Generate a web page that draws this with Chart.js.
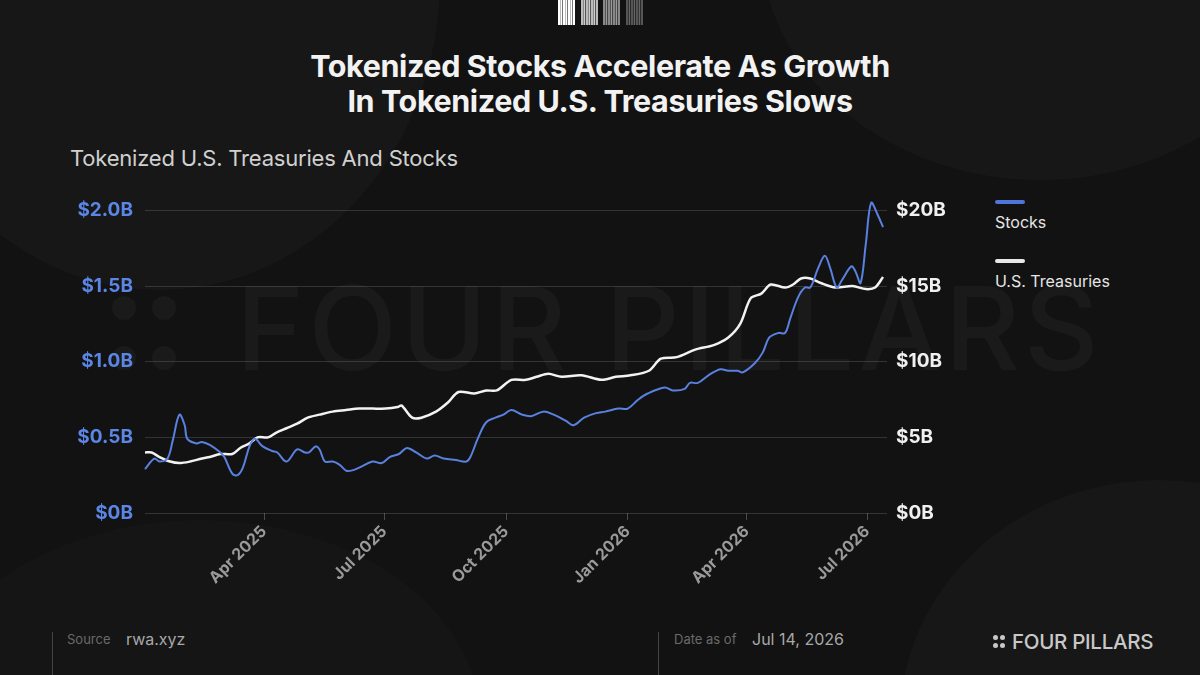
<!DOCTYPE html>
<html>
<head>
<meta charset="utf-8">
<script src="https://cdn.jsdelivr.net/npm/chart.js@4.4.1/dist/chart.umd.min.js"></script>
<style>
  html, body { margin: 0; padding: 0; }
  body {
    width: 1200px; height: 675px; overflow: hidden; position: relative;
    background: #121212; font-family: Inter, "Noto Sans", sans-serif; color: #fff;
  }
  .blob { position: absolute; border-radius: 50%; background: #171717; }
  .barcode { position: absolute; top: 0; height: 25px; width: 17px; }
  .title {
    position: absolute; top: 48px; left: 0; width: 1200px; text-align: center;
    font-size: 30.5px; font-weight: 700; line-height: 35px; letter-spacing: -0.4px; color: #f2f2f2;
  }
  .subtitle { position: absolute; left: 70px; top: 145px; font-size: 22px; color: #d0d0d0; letter-spacing: -0.2px; }
  .watermark {
    position: absolute; left: 236px; top: 258px; font-size: 116px; font-weight: 500;
    color: rgba(255,255,255,0.035); letter-spacing: 4px; white-space: nowrap;
  }
  .wdot { position: absolute; width: 24px; height: 24px; border-radius: 50%; background: rgba(255,255,255,0.035); }
  #wrap { position: absolute; left: 60px; top: 187px; width: 907px; height: 416px; }
  .leg { position: absolute; left: 995px; font-size: 16px; color: #e6e6e6; }
  .legbar { position: absolute; left: 995px; width: 30px; height: 4px; border-radius: 2px; }
  .vline { position: absolute; top: 632px; width: 1px; height: 43px; background: #444; }
  .flabel { position: absolute; top: 631px; font-size: 13px; color: #6a6a6a; }
  .fval { position: absolute; top: 629px; font-size: 16px; color: #a8a8a8; }
  .logo { position: absolute; left: 992px; top: 629px; font-size: 20.5px; font-weight: 500; color: #c8c8c8; letter-spacing: -0.3px; }
  .ldot { position: absolute; width: 5px; height: 5px; border-radius: 50%; background: #c8c8c8; }
</style>
</head>
<body>
<div class="blob" style="left:-120px; top:-330px; width:560px; height:620px;"></div>
<div class="blob" style="left:760px; top:-300px; width:560px; height:480px;"></div>
<div class="blob" style="left:900px; top:480px; width:520px; height:480px;"></div>
<div class="blob" style="left:-80px; top:520px; width:560px; height:400px; background:#151515;"></div>

<div class="barcode" style="left:558px; background:repeating-linear-gradient(90deg,#fff 0 2px,#bbb 2px 3px,#fff 3px 4px,#777 4px 5px);"></div>
<div class="barcode" style="left:581px; background:repeating-linear-gradient(90deg,#bbb 0 2px,#888 2px 3px,#ccc 3px 4px,#555 4px 5px);"></div>
<div class="barcode" style="left:603px; background:repeating-linear-gradient(90deg,#888 0 2px,#555 2px 3px,#999 3px 4px,#444 4px 5px);"></div>
<div class="barcode" style="left:626px; background:repeating-linear-gradient(90deg,#555 0 2px,#333 2px 3px,#666 3px 4px,#2a2a2a 4px 5px);"></div>

<div class="title">Tokenized Stocks Accelerate As Growth<br>In Tokenized U.S. Treasuries Slows</div>
<div class="subtitle">Tokenized U.S. Treasuries And Stocks</div>

<div class="wdot" style="left:112px; top:296px;"></div>
<div class="wdot" style="left:152px; top:296px;"></div>
<div class="wdot" style="left:112px; top:346px;"></div>
<div class="wdot" style="left:152px; top:346px;"></div>
<div class="watermark">FOUR PILLARS</div>

<div id="wrap"><canvas id="chart"></canvas></div>

<div class="legbar" style="top:200px; background:#4f74dc;"></div>
<div class="leg" style="top:212px;">Stocks</div>
<div class="legbar" style="top:259px; background:#e8e8e8;"></div>
<div class="leg" style="top:271px;">U.S. Treasuries</div>

<div class="vline" style="left:52px;"></div>
<div class="flabel" style="left:67px;">Source</div>
<div class="fval" style="left:126px;">rwa.xyz</div>
<div class="vline" style="left:658px;"></div>
<div class="flabel" style="left:674px;">Date as of</div>
<div class="fval" style="left:752px;">Jul 14, 2026</div>
<div class="ldot" style="left:993px; top:635px;"></div>
<div class="ldot" style="left:1000px; top:635px;"></div>
<div class="ldot" style="left:993px; top:643px;"></div>
<div class="ldot" style="left:1000px; top:643px;"></div>
<div class="logo" style="left:1012px;">FOUR PILLARS</div>

<script>
// days counted from Jan 1, 2025
const tickDays = [90, 181, 273, 365, 455, 546];
const tickLabels = ["Apr 2025", "Jul 2025", "Oct 2025", "Jan 2026", "Apr 2026", "Jul 2026"];

// Stocks, $B (left axis)
const stockDays = [0, 7, 11, 17, 21, 26, 30, 32, 39, 43, 49, 57, 60, 66, 70, 74, 79, 83, 89, 96,
  100, 107, 115, 121, 124, 129, 132, 136, 142, 147, 152, 156, 162, 172, 179, 185, 192, 198, 205, 213,
  219, 226, 235, 243, 246, 252, 258, 265, 271, 277, 285, 292, 301, 309, 318, 324, 332, 341, 348, 358,
  365, 373, 380, 393, 399, 408, 412, 418, 426, 435, 441, 448, 452, 461, 467, 472, 479, 484, 488, 494,
  499, 503, 509, 514, 518, 523, 527, 534, 537, 541, 545, 549, 554, 558];
const stockValues = [0.29, 0.36, 0.34, 0.36, 0.48, 0.65, 0.58, 0.49, 0.46, 0.47, 0.45, 0.40, 0.37, 0.26, 0.25, 0.30, 0.44, 0.49, 0.44, 0.41,
  0.40, 0.34, 0.42, 0.40, 0.40, 0.44, 0.42, 0.34, 0.34, 0.32, 0.28, 0.28, 0.30, 0.34, 0.33, 0.37, 0.39, 0.43, 0.40, 0.36,
  0.38, 0.36, 0.35, 0.34, 0.37, 0.50, 0.60, 0.63, 0.65, 0.68, 0.65, 0.64, 0.67, 0.65, 0.61, 0.58, 0.63, 0.66, 0.67, 0.69,
  0.69, 0.75, 0.79, 0.83, 0.81, 0.82, 0.86, 0.86, 0.91, 0.95, 0.94, 0.94, 0.93, 0.99, 1.06, 1.16, 1.19, 1.19, 1.29, 1.43,
  1.49, 1.49, 1.62, 1.70, 1.62, 1.49, 1.54, 1.63, 1.60, 1.52, 1.78, 2.05, 1.97, 1.89];

// U.S. Treasuries, $B (right axis)
const tsyDays = [0, 5, 11, 19, 26, 34, 43, 49, 57, 66, 72, 79, 85, 93, 99, 107, 115, 123, 132, 142,
  152, 162, 172, 182, 191, 194, 202, 209, 220, 229, 237, 249, 258, 266, 277, 288, 296, 305, 315, 330,
  345, 356, 367, 381, 390, 402, 416, 430, 441, 450, 458, 466, 473, 484, 490, 496, 503, 511, 522, 535,
  545, 552, 558];
const tsyValues = [4.0, 4.0, 3.7, 3.4, 3.3, 3.4, 3.6, 3.7, 3.9, 3.9, 4.3, 4.6, 5.0, 5.0, 5.3, 5.6, 5.9, 6.3, 6.5, 6.7,
  6.8, 6.9, 6.9, 6.9, 7.0, 7.1, 6.3, 6.3, 6.7, 7.3, 8.0, 7.9, 8.1, 8.1, 8.8, 8.8, 9.0, 9.2, 9.0, 9.1,
  8.8, 9.0, 9.1, 9.4, 10.2, 10.3, 10.8, 11.1, 11.6, 12.5, 14.2, 14.5, 15.1, 14.9, 15.1, 15.5, 15.5, 15.2, 14.9, 15.0,
  14.8, 14.9, 15.6];

const toPoints = (days, values) => days.map((d, i) => ({ x: d, y: values[i] }));

const axisFont = { family: "Inter, 'Noto Sans', sans-serif", size: 19, weight: "700" };

new Chart(document.querySelector("#chart"), {
  type: "line",
  data: {
    datasets: [
      {
        label: "Stocks",
        data: toPoints(stockDays, stockValues),
        yAxisID: "y",
        borderColor: "#5a80e0",
        borderWidth: 2,
        pointRadius: 0,
        tension: 0.35,
        clip: false,
      },
      {
        label: "U.S. Treasuries",
        data: toPoints(tsyDays, tsyValues),
        yAxisID: "y1",
        borderColor: "#f2f2f2",
        borderWidth: 2.5,
        pointRadius: 0,
        tension: 0.3,
      },
    ],
  },
  options: {
    responsive: true,
    maintainAspectRatio: false,
    animation: false,
    layout: { padding: { top: 12, left: 0, right: 0, bottom: 0 } },
    plugins: { legend: { display: false }, tooltip: { enabled: false } },
    scales: {
      x: {
        type: "linear",
        min: 0,
        max: 561,
        afterBuildTicks: (scale) => {
          scale.ticks = tickDays.map((v) => ({ value: v }));
        },
        afterFit: (scale) => { scale.height = 90; },
        ticks: {
          autoSkip: false,
          maxRotation: 45,
          minRotation: 45,
          padding: 2,
          color: "#9a9a9a",
          font: { family: "Inter, 'Noto Sans', sans-serif", size: 16, weight: "700" },
          callback: (v) => tickLabels[tickDays.indexOf(v)],
        },
        grid: { drawOnChartArea: false, color: "#4a4a4a", tickLength: 7 },
        border: { display: false },
      },
      y: {
        position: "left",
        min: 0,
        max: 2.0,
        afterFit: (scale) => { scale.width = 85; },
        ticks: {
          stepSize: 0.5,
          padding: 12,
          color: "#5b86e6",
          font: axisFont,
          callback: (v) => (v === 0 ? "$0B" : "$" + v.toFixed(1) + "B"),
        },
        grid: { color: "rgba(255,255,255,0.14)", drawTicks: false },
        border: { display: false },
      },
      y1: {
        position: "right",
        min: 0,
        max: 20,
        afterFit: (scale) => { scale.width = 80; },
        ticks: {
          stepSize: 5,
          padding: 9,
          color: "#f0f0f0",
          font: axisFont,
          callback: (v) => "$" + v + "B",
        },
        grid: { drawOnChartArea: false, drawTicks: false },
        border: { display: false },
      },
    },
  },
});
</script>
</body>
</html>
